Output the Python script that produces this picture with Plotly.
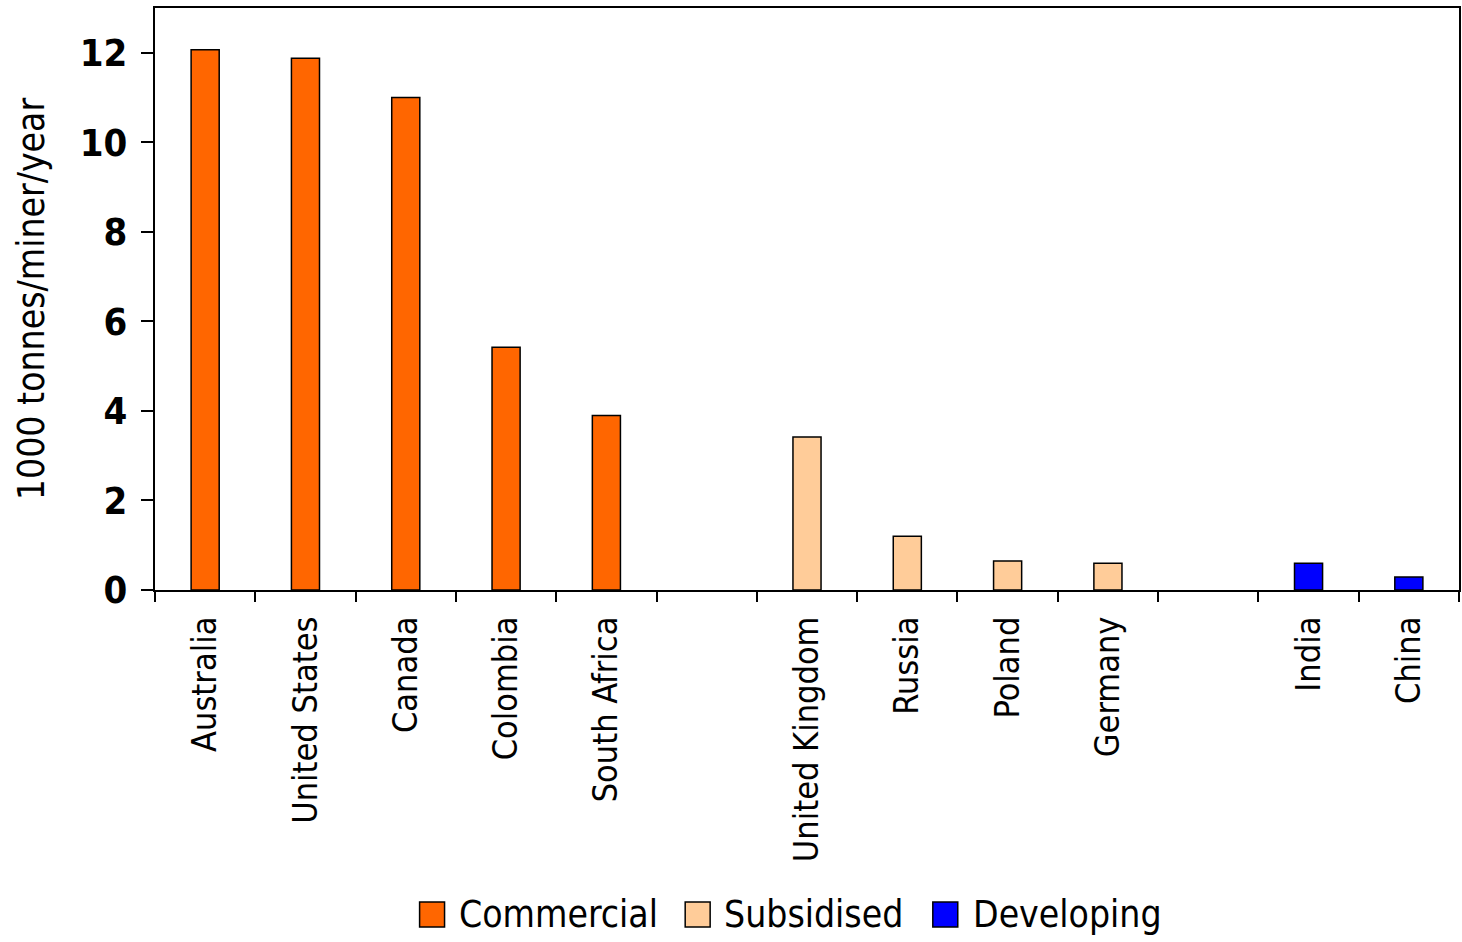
import plotly.graph_objects as go

# Productivity of coal miners, thousand tonnes per miner per year
categories = ["Australia", "United States", "Canada", "Colombia", "South Africa", " ",
              "United Kingdom", "Russia", "Poland", "Germany", "  ", "India", "China"]

commercial_countries = ["Australia", "United States", "Canada", "Colombia", "South Africa"]
commercial_values = [12.07, 11.88, 11.0, 5.42, 3.9]

subsidised_countries = ["United Kingdom", "Russia", "Poland", "Germany"]
subsidised_values = [3.42, 1.2, 0.65, 0.6]

developing_countries = ["India", "China"]
developing_values = [0.6, 0.29]

series_names = ["Commercial", "Subsidised", "Developing"]
series_colors = ["#FF6600", "#FFCC99", "#0000FF"]

FONT = "DejaVu Sans Condensed, Liberation Sans Narrow, sans-serif"

W, H = 1462, 942
ML, MR, MT, MB = 155, 1, 8, 352
PW, PH = W - ML - MR, H - MT - MB


def px_to_paper(px, py):
    return (px - ML) / PW, (H - MB - py) / PH


fig = go.Figure()
for name, xs, ys, color in zip(
    series_names,
    [commercial_countries, subsidised_countries, developing_countries],
    [commercial_values, subsidised_values, developing_values],
    series_colors,
):
    fig.add_trace(go.Bar(
        name=name, x=xs, y=ys, width=0.28, showlegend=False,
        marker=dict(color=color, line=dict(color="black", width=1.5)),
    ))

# Legend row below the axis labels: swatch + label for each series
legend_swatch_left = [420, 686, 934]
legend_text_left = [457, 723, 972]
legend_mid_y = 914.5
sw = 25
for name, color, sx, tx in zip(series_names, series_colors, legend_swatch_left, legend_text_left):
    x0, y0 = px_to_paper(sx, legend_mid_y + sw / 2)
    x1, y1 = px_to_paper(sx + sw, legend_mid_y - sw / 2)
    fig.add_shape(type="rect", xref="paper", yref="paper", x0=x0, y0=y0, x1=x1, y1=y1,
                  fillcolor=color, line=dict(color="black", width=1.5))
    ax, ay = px_to_paper(tx, legend_mid_y)
    fig.add_annotation(xref="paper", yref="paper", x=ax, y=ay, xanchor="left", yanchor="middle",
                       text=name, showarrow=False, font=dict(size=37, family=FONT, color="black"))

fig.update_layout(
    width=W, height=H,
    margin=dict(l=ML, r=MR, t=MT, b=MB),
    paper_bgcolor="white", plot_bgcolor="white",
    barmode="overlay", showlegend=False,
    font=dict(family=FONT, color="black"),
    xaxis=dict(
        type="category", categoryorder="array", categoryarray=categories,
        range=[-0.5, 12.5], tickson="boundaries", ticks="outside", ticklen=10,
        tickwidth=1.5, tickcolor="black", tickangle=-90, ticklabelstandoff=11,
        tickfont=dict(size=34, family=FONT),
        showline=True, linecolor="black", linewidth=2, mirror=True,
        showgrid=False,
    ),
    yaxis=dict(
        range=[0, 13], tickvals=[0, 2, 4, 6, 8, 10, 12], ticks="outside",
        ticklen=12, tickwidth=1.5, tickcolor="black", ticklabelstandoff=6,
        tickfont=dict(size=38, family=FONT, weight="bold"),
        showline=True, linecolor="black", linewidth=2, mirror=True,
        showgrid=False, zeroline=False,
        title=dict(text="1000 tonnes/miner/year", font=dict(size=37, family=FONT), standoff=24),
    ),
)

fig.write_html("out.html")
